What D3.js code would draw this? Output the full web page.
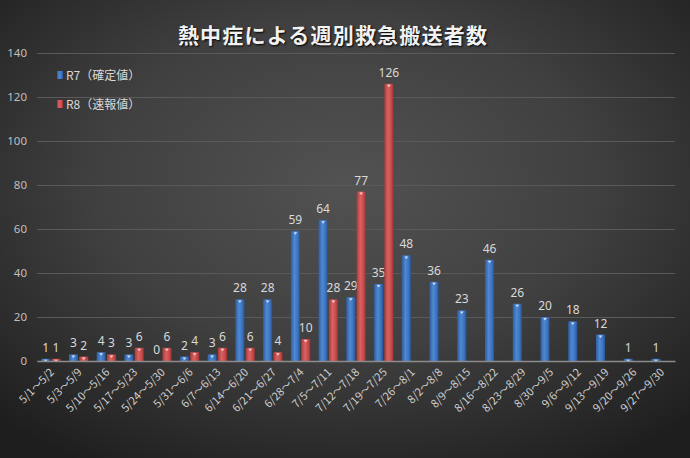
<!DOCTYPE html>
<html lang="ja">
<head>
<meta charset="utf-8">
<script src="https://cdn.jsdelivr.net/npm/d3@7"></script>
<style>
  html, body { margin: 0; padding: 0; background: #2a2a2a; }
  svg { display: block; font-family: "Noto Sans CJK JP", "Noto Sans", sans-serif; }
</style>
</head>
<body>
<div id="chart"></div>
<script>
// weekly heatstroke ambulance transports
const weeks = ['5/1～5/2', '5/3～5/9', '5/10～5/16', '5/17～5/23', '5/24～5/30', '5/31～6/6',
  '6/7～6/13', '6/14～6/20', '6/21～6/27', '6/28～7/4', '7/5～7/11', '7/12～7/18', '7/19～7/25',
  '7/26～8/1', '8/2～8/8', '8/9～8/15', '8/16～8/22', '8/23～8/29', '8/30～9/5', '9/6～9/12',
  '9/13～9/19', '9/20～9/26', '9/27～9/30'];
const r7 = [1, 3, 4, 3, 0, 2, 3, 28, 28, 59, 64, 29, 35, 48, 36, 23, 46, 26, 20, 18, 12, 1, 1];
const r8 = [1, 2, 3, 6, 6, 4, 6, 6, 4, 10, 28, 77, 126];
const seriesNames = ['R7（確定値）', 'R8（速報値）'];
const yTicks = [0, 20, 40, 60, 80, 100, 120, 140];

function drawChart() {
  const width = 690, height = 458;
  const margin = { top: 53, right: 15, bottom: 97, left: 37 };

  const svg = d3.select('#chart').append('svg')
    .attr('width', width)
    .attr('height', height);

  const defs = svg.append('defs');
  const bg = defs.append('radialGradient').attr('id', 'bg')
    .attr('cx', '50%').attr('cy', '40%').attr('r', '72%');
  bg.append('stop').attr('offset', '0%').attr('stop-color', '#525252');
  bg.append('stop').attr('offset', '50%').attr('stop-color', '#404040');
  bg.append('stop').attr('offset', '100%').attr('stop-color', '#1e1e1e');

  const barColors = [
    ['#2d5d9e', '#5088d2', '#3b74c2', '#2a5590'],
    ['#a83a3a', '#d96262', '#c94b4b', '#9a3333']
  ];
  barColors.forEach((c, i) => {
    const g = defs.append('linearGradient').attr('id', 'bar' + i)
      .attr('x1', '0%').attr('x2', '100%').attr('y1', '0%').attr('y2', '0%');
    g.append('stop').attr('offset', '0%').attr('stop-color', c[0]);
    g.append('stop').attr('offset', '40%').attr('stop-color', c[1]);
    g.append('stop').attr('offset', '75%').attr('stop-color', c[2]);
    g.append('stop').attr('offset', '100%').attr('stop-color', c[3]);
  });

  svg.append('rect').attr('width', width).attr('height', height).attr('fill', 'url(#bg)');

  const x0 = d3.scaleBand()
    .domain(weeks)
    .range([margin.left, width - margin.right])
    .paddingInner(0.3)
    .paddingOuter(0.15);
  const x1 = d3.scaleBand()
    .domain([0, 1])
    .range([0, x0.bandwidth()])
    .paddingInner(0.12);
  const y = d3.scaleLinear()
    .domain([0, 140])
    .range([height - margin.bottom, margin.top]);

  // gridlines + y labels
  const yAxis = d3.axisLeft(y).tickValues(yTicks)
    .tickSize(-(width - margin.left - margin.right)).tickPadding(10);
  const gy = svg.append('g').attr('transform', `translate(${margin.left},0)`).call(yAxis);
  gy.select('.domain').remove();
  gy.selectAll('.tick line').attr('stroke', '#5a5a5a').attr('stroke-width', 1);
  gy.selectAll('.tick text').attr('fill', '#bfbfbf').attr('font-size', 11.5)
    .attr('font-family', '"Noto Sans", sans-serif');

  // bars
  const rows = [];
  weeks.forEach((w, i) => {
    rows.push({ week: w, s: 0, v: r7[i] });
    if (r8[i] !== undefined) rows.push({ week: w, s: 1, v: r8[i] });
  });

  const bars = svg.append('g').selectAll('g').data(rows).enter().append('g')
    .attr('transform', d => `translate(${x0(d.week) + x1(d.s)},0)`);
  bars.append('rect')
    .attr('x', 0)
    .attr('y', d => y(d.v))
    .attr('width', x1.bandwidth())
    .attr('height', d => y(0) - y(d.v))
    .attr('fill', d => `url(#bar${d.s})`);
  // small bevel cap on top of each bar
  bars.filter(d => d.v > 0).append('path')
    .attr('d', d => {
      const w = x1.bandwidth(), t = y(d.v);
      return `M${w * 0.3},${t + 1}L${w * 0.7},${t + 1}L${w * 0.5},${t + 3.5}Z`;
    })
    .attr('fill', d => d.s === 0 ? '#cfe0f7' : '#f7d0d0');

  // value labels
  bars.append('text')
    .attr('x', x1.bandwidth() / 2)
    .attr('y', d => y(d.v) - 7)
    .attr('text-anchor', 'middle')
    .attr('fill', '#d9d9d9')
    .attr('font-size', 12)
    .attr('font-family', '"Noto Sans", sans-serif')
    .text(d => d.v);

  // x axis
  const xAxis = d3.axisBottom(x0).tickSize(0).tickPadding(0);
  const gx = svg.append('g').attr('transform', `translate(0,${y(0)})`).call(xAxis);
  gx.select('.domain').attr('stroke', '#8c8c8c').attr('stroke-width', 1.5);
  gx.selectAll('.tick text')
    .attr('fill', '#d0d0d0')
    .attr('font-size', 11)
    .attr('font-family', '"Noto Sans CJK JP", sans-serif')
    .attr('text-anchor', 'end')
    .attr('dy', 0)
    .attr('transform', 'translate(4,12) rotate(-45)');

  // legend
  const legend = svg.append('g').selectAll('g').data(seriesNames).enter().append('g')
    .attr('transform', (d, i) => `translate(57,${71 + i * 29})`);
  legend.append('rect')
    .attr('width', 6).attr('height', 8)
    .attr('fill', (d, i) => `url(#bar${i})`);
  legend.append('text')
    .attr('x', 9).attr('y', 8.5)
    .attr('fill', '#d9d9d9')
    .attr('font-size', 12)
    .text(d => d);

  // title
  svg.append('text')
    .attr('x', 333).attr('y', 43)
    .attr('text-anchor', 'middle')
    .attr('fill', '#f2f2f2')
    .attr('font-size', 21)
    .attr('font-weight', 'bold')
    .attr('letter-spacing', 1.2)
    .style('text-shadow', '1px 1px 2px #000')
    .text('熱中症による週別救急搬送者数');
}

document.addEventListener('DOMContentLoaded', drawChart);
</script>
</body>
</html>
